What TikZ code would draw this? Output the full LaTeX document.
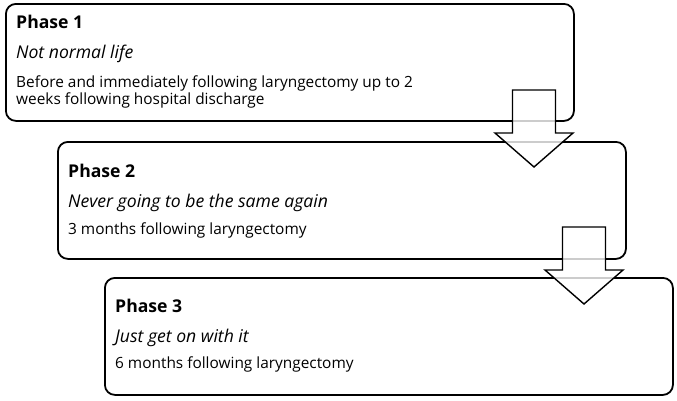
\documentclass[tikz,border=0pt]{standalone}
\usepackage{fontspec}
\setmainfont{Open Sans}
\begin{document}
\begin{tikzpicture}[x=1pt,y=-1pt,
  phasebox/.style={draw=black, line width=1.8pt, rounded corners=10pt, fill=white,
    minimum width=568pt, minimum height=117pt, anchor=north west, inner sep=0pt},
  blockarrow/.style={draw=black, line width=1.4pt, fill=white, fill opacity=0.8, line join=miter},
  phasetitle/.style={anchor=base west, inner sep=0pt, font=\bfseries\fontsize{17.6}{20}\selectfont},
  phasename/.style={anchor=base west, inner sep=0pt, font=\itshape\fontsize{17.6}{20}\selectfont},
  phasetime/.style={anchor=base west, inner sep=0pt, font=\fontsize{15.4}{17}\selectfont},
  downarrow/.pic={
    \draw[blockarrow] (-21.5,0) -- (21.5,0) -- (21.5,43) -- (39,43) -- (0,77)
      -- (-39,43) -- (-21.5,43) -- cycle;
  }]
  % canvas
  \path[fill=white] (0,0) rectangle (677,400);

  % the three phase boxes
  \node[phasebox] (box1) at (5,3) {};
  \node[phasebox] (box2) at (57,141) {};
  \node[phasebox] (box3) at (104,277) {};

  % phase 1 text
  \node[phasetitle] (t1) at (16,28) {Phase 1};
  \node[phasename]  (n1) at (16,58) {Not normal life};
  \node[phasetime]  (d1a) at (16,87) {Before and immediately following laryngectomy up to 2};
  \node[phasetime]  (d1b) at (16,104) {weeks following hospital discharge};

  % phase 2 text
  \node[phasetitle] (t2) at (68,177) {Phase 2};
  \node[phasename]  (n2) at (68,207) {Never going to be the same again};
  \node[phasetime]  (d2) at (68,234) {3 months following laryngectomy};

  % phase 3 text
  \node[phasetitle] (t3) at (115,312) {Phase 3};
  \node[phasename]  (n3) at (115,342) {Just get on with it};
  \node[phasetime]  (d3) at (115,368) {6 months following laryngectomy};

  % block arrows linking the phases
  \pic at (534,90) {downarrow};
  \pic at (584,227) {downarrow};
\end{tikzpicture}
\end{document}
